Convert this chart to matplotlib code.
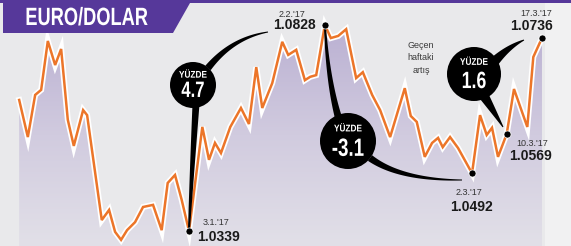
import numpy as np
import matplotlib
matplotlib.use("Agg")
import matplotlib.pyplot as plt
from matplotlib.patches import Polygon, Circle
import matplotlib.patheffects as pe
from matplotlib.colors import LinearSegmentedColormap
from matplotlib.transforms import Affine2D

# ---------------- data (EUR/USD, trading-day offset from 3 Jan 2017) -------------
days = [-25.5, -24.2, -23.1, -22.2, -21.2, -20.1, -19.2, -18.2, -17.3, -15.9, -15.3,
        -13.1, -12.0, -11.1, -10.2, -9.3, -8.1, -6.9, -5.4, -4.1, -3.2, -2.1, -1.1, 0.0,
        2.0, 3.0, 3.9, 4.8, 6.2, 7.8, 9.0, 10.1, 11.0, 12.5, 14.0, 14.9, 16.1, 17.4,
        18.2, 19.1, 20.4, 21.3, 22.4, 23.6, 25.1, 26.1, 27.5, 28.7, 30.2, 32.4, 33.3,
        34.2, 35.4, 36.5, 37.4, 38.1, 39.2, 40.4, 42.5, 43.7, 44.7, 45.5, 46.4, 47.7,
        48.8, 50.8, 51.7, 53.0]
rates = [1.0650, 1.0562, 1.0662, 1.0674, 1.0790, 1.0733, 1.0771, 1.0603, 1.0541, 1.0626,
         1.0614, 1.0365, 1.0389, 1.0337, 1.0318, 1.0341, 1.0360, 1.0396, 1.0401, 1.0341,
         1.0453, 1.0472, 1.0413, 1.0339, 1.0586, 1.0508, 1.0548, 1.0524, 1.0586, 1.0631,
         1.0593, 1.0728, 1.0631, 1.0690, 1.0788, 1.0757, 1.0769, 1.0697, 1.0705, 1.0709,
         1.0828, 1.0797, 1.0802, 1.0818, 1.0702, 1.0716, 1.0662, 1.0626, 1.0562, 1.0678,
         1.0612, 1.0598, 1.0515, 1.0548, 1.0560, 1.0538, 1.0562, 1.0536, 1.0476, 1.0614,
         1.0567, 1.0584, 1.0515, 1.0569, 1.0676, 1.0586, 1.0752, 1.0797]

title = "EURO/DOLAR"
annot_idx = [23, 40, 58, 63, 67]
annot_dates = ["3.1.'17", "2.2.'17", "2.3.'17", "10.3.'17", "17.3.'17"]
annot_values = ["1.0339", "1.0828", "1.0492", "1.0569", "1.0736"]
bubble_word = "YÜZDE"
bubble_values = ["4.7", "-3.1", "1.6"]
note_text = "Geçen\nhaftaki\nartış"

# ---------------- styling ----------------
W, H = 571, 246
BG = "#e9e9eb"
PURPLE = "#56389a"
ORANGE = "#ec7529"
SANS = ["Liberation Sans", "DejaVu Sans"]


class Condense(pe.AbstractPathEffect):
    """Squeeze glyphs horizontally around a display x position (condensed type)."""

    def __init__(self, cx, sx):
        super().__init__()
        self.cx, self.sx = cx, sx

    def draw_path(self, renderer, gc, tpath, affine, rgbFace=None):
        squeeze = Affine2D().translate(-self.cx, 0).scale(self.sx, 1).translate(self.cx, 0)
        renderer.draw_path(gc, tpath, affine + squeeze, rgbFace)


fig = plt.figure(figsize=(W / 100, H / 100), dpi=100)
fig.patch.set_facecolor(BG)

ax = fig.add_axes([0, 0, 1, 1])
ax.set_facecolor(BG)
ax.set_xlim(-28.38, 57.36)
ax.set_ylim(1.03034, 1.08873)
ax.axis("off")

x = np.array(days)
y = np.array(rates)

# lighter right margin
ax.axvspan(x[-1] + 0.4, 57.36, color="#f1f1f2", zorder=0, lw=0)

# gradient fill under the line
ybot = 1.03034
poly_xy = np.vstack([np.column_stack([x, y]), [[x[-1], ybot], [x[0], ybot]]])
clip = Polygon(poly_xy, closed=True, transform=ax.transData, facecolor="none", edgecolor="none")
ax.add_patch(clip)
cmap = LinearSegmentedColormap.from_list("fill", ["#bab0d2", "#d1cbdf", "#e2e0e8"])
grad = np.linspace(0, 1, 256).reshape(-1, 1)
im = ax.imshow(grad, extent=[x[0], x[-1], ybot, y.max()], origin="upper", aspect="auto",
               cmap=cmap, zorder=1, interpolation="bilinear")
im.set_clip_path(clip)

ax.plot(x, y, color=ORANGE, lw=1.8, zorder=3, solid_joinstyle="miter",
        path_effects=[pe.Stroke(linewidth=4.3, foreground="white"), pe.Normal()])

# ---------------- overlay in pixel coordinates ----------------
ov = fig.add_axes([0, 0, 1, 1], zorder=5)
ov.set_xlim(0, W)
ov.set_ylim(H, 0)
ov.axis("off")
ov.patch.set_alpha(0)

# title banner
ov.add_patch(Polygon([[0, 0], [W, 0], [W, 3], [190, 3], [173, 33], [3, 33], [3, 3], [0, 3]],
                     closed=True, facecolor=PURPLE, edgecolor="none"))
ov.text(86.5, 18, title, color="white", fontsize=18, fontweight="bold", family=SANS,
        ha="center", va="center", path_effects=[Condense(86.5, 0.73)])


def tail(p0, p1, p2, w0, w1):
    t = np.linspace(0, 1, 60)[:, None]
    p0, p1, p2 = map(np.array, (p0, p1, p2))
    pts = (1 - t) ** 2 * p0 + 2 * (1 - t) * t * p1 + t ** 2 * p2
    d = 2 * (1 - t) * (p1 - p0) + 2 * t * (p2 - p1)
    n = np.column_stack([-d[:, 1], d[:, 0]])
    n /= np.linalg.norm(n, axis=1)[:, None]
    w = (w0 + (w1 - w0) * t) / 2
    left = pts + n * w
    right = pts - n * w
    ov.add_patch(Polygon(np.vstack([left, right[::-1]]), closed=True,
                         facecolor="black", edgecolor="none", zorder=2))


# bubble tails
tail((196, 104), (192, 170), (189, 229), 7, 2)
tail((208, 68), (232, 38), (268, 32), 7, 1)
tail((338, 116), (328, 80), (325, 27), 7, 2)
tail((370, 158), (400, 180), (462, 180), 7, 1)
tail((484, 96), (494, 112), (503, 127), 10, 1)
tail((494, 62), (508, 47), (524, 40), 10, 1)

bubbles = [((193, 85), 23, 16), ((348, 141), 28, 18), ((474, 74), 27, 17)]
for ((cx, cy), r, fs), val in zip(bubbles, bubble_values):
    ov.add_patch(Circle((cx, cy), r, facecolor="black", edgecolor="none", zorder=3))
    ov.text(cx, cy - r * 0.45, bubble_word, color="white", fontsize=7, fontweight="bold",
            family=SANS, ha="center", va="center", zorder=4,
            path_effects=[Condense(cx, 0.85)])
    ov.text(cx, cy + r * 0.28, val, color="white", fontsize=fs,
            fontweight="bold", family=SANS, ha="center", va="center", zorder=4,
            path_effects=[Condense(cx, 0.75)])

ov.text(421, 58, note_text, color="#3a3a3a", fontsize=6.5, family=SANS, ha="center",
        va="center", linespacing=1.55)

# annotated points
ov.scatter(x[annot_idx], y[annot_idx], s=26, color="black", zorder=6,
           edgecolor="white", linewidth=0.5, transform=ax.transData)

date_offsets = [(14, 9, "left"), (-20, 10, "right"), (-3, -19, "center"),
                (10, -9, "left"), (10, 25, "right")]
value_offsets = [(8, -6, "left"), (-9, 0, "right"), (-1, -34, "center"),
                 (2, -22, "left"), (11, 12, "right")]
for i, d, v, (dx, dy, ha), (vx, vy, vha) in zip(annot_idx, annot_dates, annot_values,
                                                 date_offsets, value_offsets):
    ax.annotate(d, (x[i], y[i]), xytext=(dx, dy), textcoords="offset pixels", ha=ha,
                va="center", fontsize=6.5, color="#333333", family=SANS, zorder=7,
                annotation_clip=False)
    ax.annotate(v, (x[i], y[i]), xytext=(vx, vy), textcoords="offset pixels", ha=vha,
                va="center", fontsize=10, fontweight="bold", color="#1a1a1a", family=SANS,
                zorder=7, annotation_clip=False)

fig.savefig("out.png", dpi=100, facecolor=BG)
